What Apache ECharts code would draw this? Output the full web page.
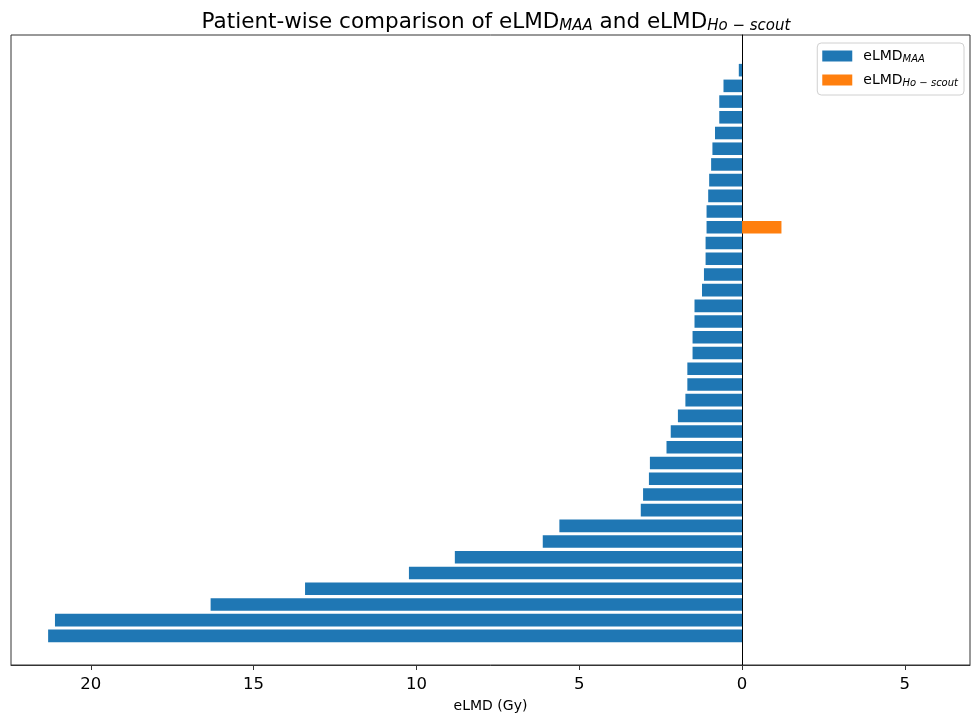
<!DOCTYPE html>
<html>
<head>
<meta charset="utf-8">
<script src="https://cdn.jsdelivr.net/npm/echarts@6/dist/echarts.min.js"></script>
<style>
  html, body { margin: 0; padding: 0; background: #fff; }
  #chart { width: 971px; height: 718px; }
</style>
</head>
<body>
<div id="chart"></div>
<script>
// Patients, ordered top to bottom as drawn
const patients = Array.from({length: 37}, (_, i) => 'P' + (i + 1));
// eLMD_MAA (Gy), drawn to the left (negative side)
const eLMD_MAA = [-0.10, -0.57, -0.70, -0.70, -0.83, -0.91, -0.95, -1.01, -1.04, -1.09,
  -1.09, -1.12, -1.12, -1.17, -1.23, -1.46, -1.46, -1.52, -1.52, -1.68,
  -1.68, -1.74, -1.97, -2.19, -2.32, -2.83, -2.86, -3.04, -3.11, -5.61,
  -6.12, -8.82, -10.23, -13.42, -16.32, -21.10, -21.31];
// eLMD_Ho-scout (Gy), drawn to the right
const eLMD_HoScout = [null, null, null, null, null, null, null, null, null, null,
  1.21, null, null, null, null, null, null, null, null, null,
  null, null, null, null, null, null, null, null, null, null,
  null, null, null, null, null, null, null];
const xTicks = [-20, -15, -10, -5, 0, 5];
const xMin = -22.45, xMax = 7.0;

const chart = echarts.init(document.getElementById('chart'));
const FONT = 'DejaVu Sans';

chart.setOption({
  animation: false,
  backgroundColor: '#fff',
  title: {
    text: 'Patient-wise comparison of eLMD{s|MAA} and eLMD{s|Ho − scout}',
    left: 491,
    textAlign: 'center',
    top: 5,
    textStyle: {
      fontFamily: FONT,
      fontSize: 21.5,
      fontWeight: 'normal',
      color: '#000',
      rich: {
        s: { fontFamily: FONT, fontSize: 15, fontStyle: 'italic', color: '#000', verticalAlign: 'bottom', padding: [9, 0, 0, 0] }
      }
    }
  },
  legend: {
    orient: 'vertical',
    right: 7,
    top: 43,
    padding: [6, 6, 7, 5],
    itemGap: 9,
    itemWidth: 30,
    itemHeight: 11,
    icon: 'rect',
    borderColor: '#d0d0d0',
    borderWidth: 1,
    borderRadius: 4,
    data: ['eLMD_MAA', 'eLMD_Ho-scout'],
    formatter: function (name) {
      return name === 'eLMD_MAA' ? 'eLMD{s|MAA}' : 'eLMD{s|Ho − scout}';
    },
    textStyle: {
      fontFamily: FONT,
      fontSize: 14,
      color: '#000',
      padding: [0, 0, 0, 6],
      rich: {
        s: { fontFamily: FONT, fontSize: 10, fontStyle: 'italic', color: '#000', verticalAlign: 'bottom', padding: [6, 0, 0, 0] }
      }
    }
  },
  grid: [
    { left: 11, right: 1, top: 35, bottom: 47, show: true, borderColor: '#333', borderWidth: 1, containLabel: false },
    { left: 11, right: 1, top: 62.3, bottom: 74.3, containLabel: false }
  ],
  xAxis: [
    {
      gridIndex: 0, type: 'value', min: xMin, max: xMax,
      name: 'eLMD (Gy)', nameLocation: 'middle', nameGap: 34,
      nameTextStyle: { fontFamily: FONT, fontSize: 14, color: '#000' },
      axisLine: { show: true, onZero: false, lineStyle: { color: '#333', width: 1 } },
      axisTick: { show: true, length: 5, customValues: xTicks, lineStyle: { color: '#333' } },
      axisLabel: {
        customValues: xTicks, margin: 11,
        fontFamily: FONT, fontSize: 16.5, color: '#000',
        formatter: v => String(Math.abs(v))
      },
      splitLine: { show: false }
    },
    {
      gridIndex: 1, type: 'value', min: xMin, max: xMax, show: false,
      splitLine: { show: false }
    }
  ],
  yAxis: [
    {
      gridIndex: 0, type: 'value', min: 0, max: 1,
      axisLine: { show: true, onZero: true, lineStyle: { color: '#000', width: 1 } },
      axisTick: { show: false }, axisLabel: { show: false }, splitLine: { show: false }
    },
    {
      gridIndex: 1, type: 'category', data: patients, inverse: true, show: false,
      boundaryGap: true
    }
  ],
  series: [
    {
      name: 'eLMD_MAA', type: 'bar', xAxisIndex: 1, yAxisIndex: 1,
      data: eLMD_MAA, barCategoryGap: '20%', barGap: '-100%',
      itemStyle: { color: '#1f77b4' }, z: 2
    },
    {
      name: 'eLMD_Ho-scout', type: 'bar', xAxisIndex: 1, yAxisIndex: 1,
      data: eLMD_HoScout, barCategoryGap: '20%', barGap: '-100%',
      itemStyle: { color: '#ff7f0e' }, z: 2
    }
  ]
});
</script>
</body>
</html>
